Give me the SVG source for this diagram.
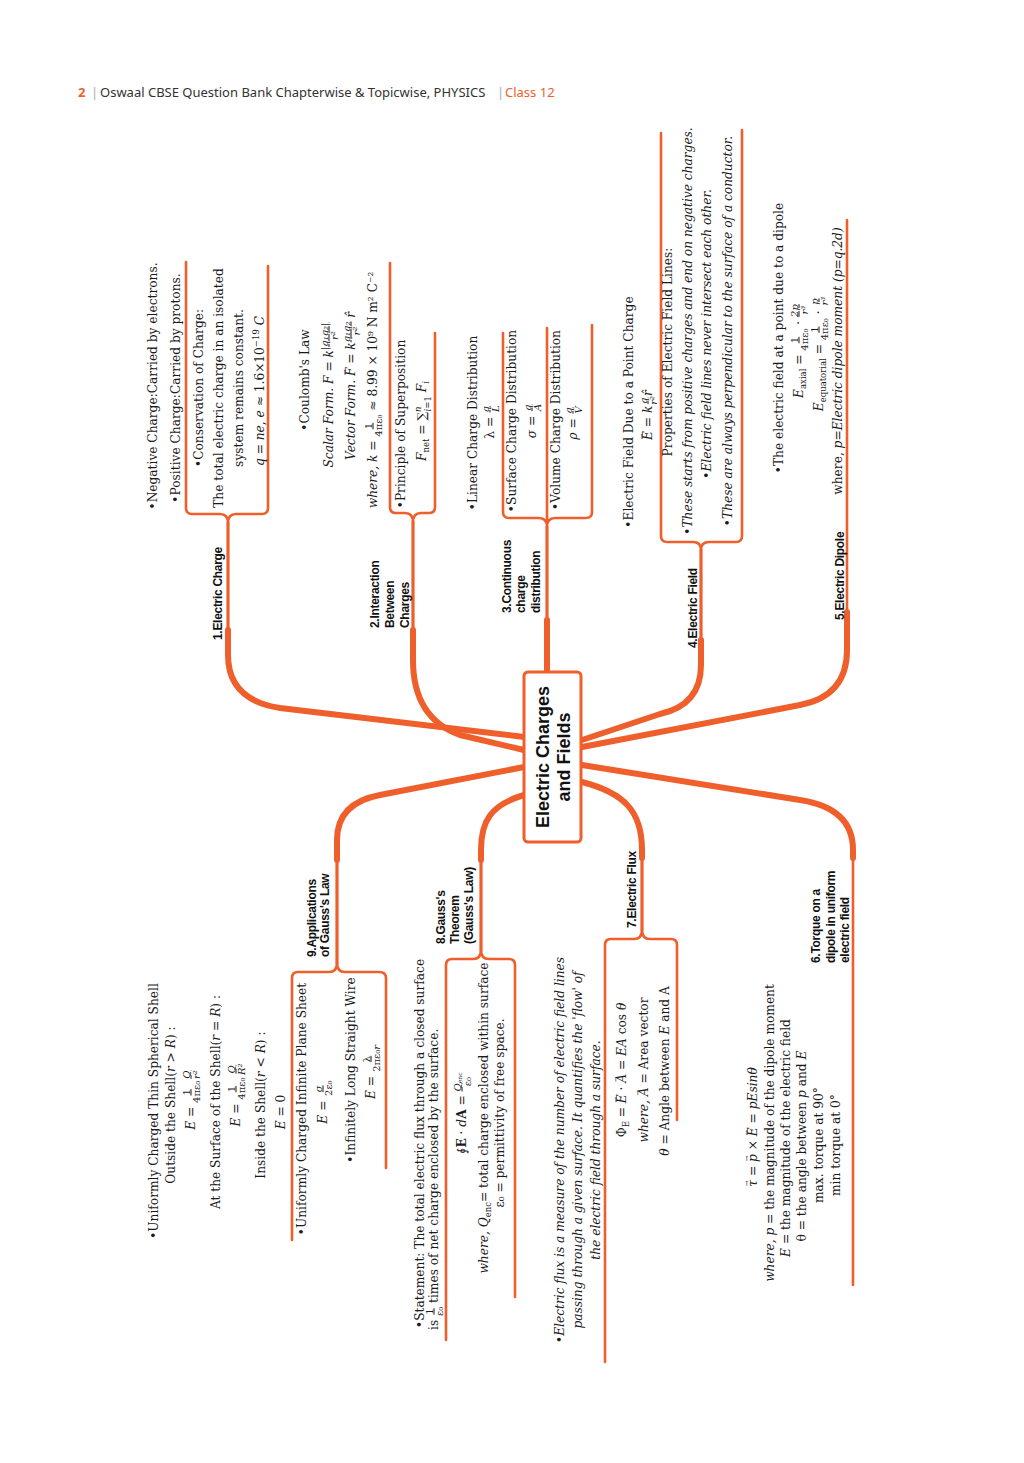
<svg xmlns="http://www.w3.org/2000/svg" width="1024" height="1463" viewBox="0 0 1024 1463">
<style>
.t{font-family:"DejaVu Serif","Liberation Serif",serif;font-size:12.2px;fill:#1a1a1a}
.i{font-style:italic}
.m{text-anchor:middle}
.f{font-size:10px}
.s{font-size:8.5px}
.ar{font-size:7px;font-style:normal}
.n{text-decoration:underline}
.lb{font-family:"Liberation Sans",Arial,sans-serif;font-weight:bold;font-size:12px;fill:#111;letter-spacing:-0.3px}
.br{fill:none;stroke:#EF5F2B;stroke-width:2.6;stroke-linejoin:round;stroke-linecap:round}
.thin{fill:none;stroke:#EF5F2B;stroke-width:3.2;stroke-linecap:round}
.cn{fill:none;stroke:#EF5F2B;stroke-width:6;stroke-linecap:round;stroke-linejoin:round}
</style>
<rect width="1024" height="1463" fill="#fff"/>
<g id="header">
<text y="97" font-family="'Noto Sans',sans-serif" font-size="13"><tspan x="78" fill="#EF5F2B" font-weight="bold">2</tspan><tspan x="91" fill="#aaa">|</tspan><tspan x="100" fill="#333">Oswaal CBSE Question Bank Chapterwise &amp; Topicwise, PHYSICS</tspan><tspan x="497" fill="#aaa">|</tspan><tspan x="505" fill="#EF5F2B">Class 12</tspan></text>
</g>
<g id="connectors">
<path class="br" d="M186,262 V508 Q186,514 192,514 H220 Q228,514 228,523 Q228,514 236,514 H262 Q268,514 268,508 V266"/>
<path class="br" d="M390,263 V507 Q390,513 396,513 H405 Q413,513 413,522 Q413,513 421,513 H429 Q435,513 435,507 V333"/>
<path class="br" d="M503,333 V512 Q503,518 509,518 H539 Q547,518 547,527 Q547,518 555,518 H586 Q592,518 592,512 V325 M547,328 V527"/>
<path class="br" d="M661,133 V536 Q661,542 667,542 H693 Q701,542 701,550 Q701,542 709,542 H736 Q742,542 742,536 V130"/>
<path class="br" d="M847,220 V620"/>
<path class="br" d="M292,1240 V978 Q292,972 298,972 H329 Q337,972 337,963 Q337,972 345,972 H379 Q386,972 386,978 V1168"/>
<path class="br" d="M446,1340 V965 Q446,959 452,959 H473 Q481,959 481,950 Q481,959 489,959 H509 Q515,959 515,965 V1297"/>
<path class="br" d="M605,1362 V945 Q605,939 611,939 H634 Q642,939 642,930 Q642,939 650,939 H671 Q677,939 677,945 V1120"/>
<path class="br" d="M853,850 V1285"/>
<path class="thin" d="M228,523 V635 M413,522 V635 M547,527 V625 M701,550 V645 M337,963 V855 M481,950 V855 M642,930 V850"/>
<path class="cn" d="M228,630 V655 Q228,700 280,708 L524,737"/>
<path class="cn" d="M413,630 V660 Q413,718 460,735 L524,750"/>
<path class="cn" d="M547,620 V672"/>
<path class="cn" d="M701,640 V665 Q701,705 660,714 L582,740"/>
<path class="cn" d="M847,612 V650 Q847,696 800,705 L582,747"/>
<path class="cn" d="M582,765 L800,800 Q853,808 853,850 V858"/>
<path class="cn" d="M582,782 C625,793 642,812 642,850 V858"/>
<path class="cn" d="M524,795 C490,805 481,822 481,850 V860"/>
<path class="cn" d="M524,767 L380,795 Q337,803 337,840 V860"/>
</g>
<g id="centre">
<rect x="524" y="672" width="57" height="170" rx="4" fill="#fff" stroke="#EF5F2B" stroke-width="3"/>
<g transform="translate(0,1463) rotate(-90)">
<text x="706" y="549" text-anchor="middle" font-family="'Liberation Sans',Arial,sans-serif" font-weight="bold" font-size="18" fill="#111">Electric Charges</text>
<text x="706" y="570" text-anchor="middle" font-family="'Liberation Sans',Arial,sans-serif" font-weight="bold" font-size="18" fill="#111">and Fields</text>
</g>
</g>
<g transform="translate(0,1463) rotate(-90)">
<g id="n1-electric-charge">
<text class="lb" x="823" y="222">1.Electric Charge</text>
<text class="t m" x="1077" y="157">•Negative Charge:Carried by electrons.</text>
<text class="t m" x="1075" y="180">•Positive Charge:Carried by protons.</text>
<text class="t m" x="1075" y="203">•Conservation of Charge:</text>
<text class="t m" x="1075" y="223">The total electric charge in an isolated</text>
<text class="t m" x="1075" y="243">system remains constant.</text>
<text class="t m" x="1072" y="264"><tspan class="i">q</tspan> = <tspan class="i">ne</tspan>, <tspan class="i">e</tspan> ≈ 1.6×10<tspan class="s" dy="-5">−19</tspan><tspan class="i" dy="5"> C</tspan></text>
</g>
<g id="n2-interaction">
<text class="lb" x="835" y="379">2.Interaction</text>
<text class="lb" x="835" y="394">Between</text>
<text class="lb" x="835" y="409">Charges</text>
<text class="t m" x="1083" y="309">•Coulomb's Law</text>
<text class="t m" x="1068" y="333"><tspan class="i">Scalar Form. F</tspan> = <tspan class="i">k</tspan><tspan class="f i n" dy="-5.5">|q₁q₂|</tspan><tspan class="f i" dx="-17.4" dy="10.5">r²</tspan></text>
<text class="t m" x="1077" y="355"><tspan class="i">Vector Form. F</tspan><tspan class="ar" dx="-7.7" dy="-8.5">→</tspan><tspan dx="1.8" dy="8.5"> = </tspan><tspan class="i">k</tspan><tspan class="f i n" dy="-5.5">q₁q₂</tspan><tspan class="f i" dx="-14" dy="10.5">r²</tspan><tspan class="i" dx="5" dy="-5"> r̂</tspan></text>
<text class="t m" x="1073" y="377"><tspan class="i">where, k</tspan> = <tspan class="f n" dx="7.4" dy="-5.5">1</tspan><tspan class="f" dx="-13.8" dy="10.5">4πε₀</tspan><tspan dy="-5"> ≈ 8.99 × 10⁹ N m² C⁻²</tspan></text>
<text class="t m" x="1039" y="405">•Principle of Superposition</text>
<text class="t m" x="1042" y="426"><tspan class="i">F</tspan><tspan class="s" dy="3">net</tspan><tspan dy="-3"> = ∑</tspan><tspan class="s i" dy="-5">n</tspan><tspan class="s i" dx="-5" dy="9.5">i</tspan><tspan class="s">=1</tspan><tspan class="i" dy="-4.5"> F</tspan><tspan class="s i" dy="3">i</tspan></text>
</g>
<g id="n3-continuous">
<text class="lb" x="850" y="511">3.Continuous</text>
<text class="lb" x="850" y="525">charge</text>
<text class="lb" x="850" y="540">distribution</text>
<text class="t m" x="1040" y="477">•Linear Charge Distribution</text>
<text class="t m" x="1041" y="494">λ = <tspan class="f i n" dx="0.4" dy="-5.5">q</tspan><tspan class="f i" dx="-5.9" dy="10.5">L</tspan></text>
<text class="t m" x="1042" y="516">•Surface Charge Distribution</text>
<text class="t m" x="1042" y="536"><tspan class="i">σ</tspan> = <tspan class="f i n" dx="0.85" dy="-5.5">q</tspan><tspan class="f i" dx="-6.35" dy="10.5">A</tspan></text>
<text class="t m" x="1043" y="560">•Volume Charge Distribution</text>
<text class="t m" x="1040" y="577"><tspan class="i">ρ</tspan> = <tspan class="f i n" dx="0.85" dy="-5.5">q</tspan><tspan class="f i" dx="-6.35" dy="10.5">V</tspan></text>
</g>
<g id="n4-electric-field">
<text class="lb" x="815" y="697">4.Electric Field</text>
<text class="t m" x="1051" y="633">•Electric Field Due to a Point Charge</text>
<text class="t m" x="1048" y="652"><tspan class="i">E</tspan><tspan class="ar" dx="-8.5" dy="-8.5">→</tspan><tspan dx="2.6" dy="8.5"> = </tspan><tspan class="i">k</tspan><tspan class="f i n" dx="1.75" dy="-5.5">q</tspan><tspan class="f i" dx="-7.25" dy="10.5">r²</tspan><tspan class="i" dy="-5">r̂</tspan></text>
<text class="t m" x="1111" y="672">Properties of Electric Field Lines:</text>
<text class="t m i" x="1132" y="692" font-size="11.9">•These starts from positive charges and end on negative charges.</text>
<text class="t m i" x="1129" y="711" font-size="11.9">•Electric field lines never intersect each other.</text>
<text class="t m i" x="1132" y="732" font-size="11.9">•These are always perpendicular to the surface of a conductor.</text>
</g>
<g id="n5-electric-dipole">
<text class="lb" x="843" y="844">5.Electric Dipole</text>
<text class="t m" x="1125" y="783">•The electric field at a point due to a dipole</text>
<text class="t m" x="1112" y="803"><tspan class="i">E</tspan><tspan class="s" dy="3">axial</tspan><tspan dy="-3"> = </tspan><tspan class="f n" dx="7.4" dy="-5.5">1</tspan><tspan class="f" dx="-13.8" dy="10.5">4πε₀</tspan><tspan dy="-5"> · </tspan><tspan class="f i n" dy="-5.5">2p</tspan><tspan class="f i" dx="-10.4" dy="10.5">r³</tspan></text>
<text class="t m" x="1109" y="823"><tspan class="i">E</tspan><tspan class="s" dy="3">equatorial</tspan><tspan dy="-3"> = </tspan><tspan class="f n" dx="7.4" dy="-5.5">1</tspan><tspan class="f" dx="-13.8" dy="10.5">4πε₀</tspan><tspan dy="-5"> · </tspan><tspan class="f i n" dx="1.75" dy="-5.5">p</tspan><tspan class="f i" dx="-7.25" dy="10.5">r³</tspan></text>
<text class="t m" x="1102" y="842">where, <tspan class="i">p=Electric dipole moment (p=q.2d)</tspan></text>
</g>
<g id="n6-torque">
<text class="lb" x="500" y="820">6.Torque on a</text>
<text class="lb" x="500" y="835">dipole in uniform</text>
<text class="lb" x="500" y="849">electric field</text>
<text class="t m" x="336" y="757"><tspan class="i">τ</tspan><tspan class="ar" dx="-6.3" dy="-8.5">→</tspan><tspan dx="0.6" dy="8.5"> = </tspan><tspan class="i">p</tspan><tspan class="ar" dx="-7.4" dy="-8.5">→</tspan><tspan dx="1.5" dy="8.5"> × </tspan><tspan class="i">E</tspan><tspan class="ar" dx="-8.5" dy="-8.5">→</tspan><tspan dx="2.6" dy="8.5"> = </tspan><tspan class="i">pEsinθ</tspan></text>
<text class="t m" x="330" y="774"><tspan class="i">where, p</tspan> = the magnitude of the dipole moment</text>
<text class="t m" x="325" y="790"><tspan class="i">E</tspan> = the magnitude of the electric field</text>
<text class="t m" x="317" y="806">θ = the angle between <tspan class="i">p</tspan> and <tspan class="i">E</tspan></text>
<text class="t m" x="318" y="823">max. torque at 90°</text>
<text class="t m" x="318" y="840">min torque at 0°</text>
</g>
<g id="n7-electric-flux">
<text class="lb" x="535" y="636">7.Electric Flux</text>
<text class="t m i" x="313" y="564">•Electric flux is a measure of the number of electric field lines</text>
<text class="t m i" x="313" y="582">passing through a given surface. It quantifies the 'flow' of</text>
<text class="t m i" x="313" y="600">the electric field through a surface.</text>
<text class="t m" x="393" y="626">Φ<tspan class="s" dy="3">E</tspan><tspan dy="-3"> = </tspan><tspan class="i">E</tspan><tspan class="ar" dx="-8.5" dy="-8.5">→</tspan><tspan dx="2.6" dy="8.5"> · </tspan><tspan class="i">A</tspan><tspan class="ar" dx="-8.4" dy="-8.5">→</tspan><tspan dx="2.5" dy="8.5"> = </tspan><tspan class="i">EA</tspan> cos <tspan class="i">θ</tspan></text>
<text class="t m" x="393" y="648"><tspan class="i">where, A</tspan><tspan class="ar" dx="-8.4" dy="-8.5">→</tspan><tspan dx="2.5" dy="8.5"> = Area vector</tspan></text>
<text class="t m" x="392" y="669"><tspan class="i">θ</tspan> = Angle between <tspan class="i">E</tspan> and A</text>
</g>
<g id="n8-gauss-theorem">
<text class="lb" x="519" y="445">8.Gauss's</text>
<text class="lb" x="519" y="459">Theorem</text>
<text class="lb" x="519" y="473">(Gauss's Law)</text>
<text class="t" x="135" y="424">•Statement: The total electric flux through a closed surface</text>
<text class="t" x="133" y="438">is <tspan class="f n" dx="1.3" dy="-5.5">1</tspan><tspan class="f" dx="-7.7" dy="10.5">ε₀</tspan><tspan dy="-5"> times of net charge enclosed by the surface.</tspan></text>
<text class="t m" x="350" y="466">∮<tspan font-weight="bold">E</tspan> · <tspan class="i">d</tspan><tspan font-weight="bold">A</tspan> = <tspan class="f i n" dy="-5.5">Q</tspan><tspan font-size="6" dy="1.5">enc</tspan><tspan class="f" dx="-13.8" dy="9">ε₀</tspan></text>
<text class="t m" x="345" y="488"><tspan class="i">where, Q</tspan><tspan class="s" dy="3">enc</tspan><tspan dy="-3">= total charge enclosed within surface</tspan></text>
<text class="t m" x="350" y="504">ε₀ = permittivity of free space.</text>
</g>
<g id="n9-applications">
<text class="lb" x="506" y="316">9.Applications</text>
<text class="lb" x="506" y="329">of Gauss's Law</text>
<text class="t m" x="352" y="158">•Uniformly Charged Thin Spherical Shell</text>
<text class="t m" x="358" y="175">Outside the Shell(<tspan class="i">r</tspan> &gt; <tspan class="i">R</tspan>) :</text>
<text class="t m" x="363" y="195"><tspan class="i">E</tspan> = <tspan class="f n" dx="7.4" dy="-5.5">1</tspan><tspan class="f" dx="-13.8" dy="10.5">4πε₀</tspan><tspan class="f i n" dx="2" dy="-10.5">Q</tspan><tspan class="f i" dx="-8.4" dy="10.5">r²</tspan></text>
<text class="t m" x="361" y="220">At the Surface of the Shell(<tspan class="i">r</tspan> = <tspan class="i">R</tspan>) :</text>
<text class="t m" x="368" y="240"><tspan class="i">E</tspan> = <tspan class="f n" dx="7.4" dy="-5.5">1</tspan><tspan class="f" dx="-13.8" dy="10.5">4πε₀</tspan><tspan class="f i n" dx="4" dy="-10.5">Q</tspan><tspan class="f i" dx="-9.6" dy="10.5">R²</tspan></text>
<text class="t m" x="358" y="265">Inside the Shell(<tspan class="i">r</tspan> &lt; <tspan class="i">R</tspan>) :</text>
<text class="t m" x="351" y="285"><tspan class="i">E</tspan> = 0</text>
<text class="t m" x="354" y="306">•Uniformly Charged Infinite Plane Sheet</text>
<text class="t m" x="361" y="327"><tspan class="i">E</tspan> = <tspan class="f i n" dx="4.6" dy="-5.5">σ</tspan><tspan class="f" dx="-10.6" dy="10.5">2ε₀</tspan></text>
<text class="t m" x="393" y="355">•Infinitely Long Straight Wire</text>
<text class="t m" x="391" y="375"><tspan class="i">E</tspan> = <tspan class="f n" dx="10" dy="-5.5">λ</tspan><tspan class="f" dx="-16" dy="10.5">2πε₀<tspan class="i">r</tspan></tspan></text>
</g>
</g>
</svg>
